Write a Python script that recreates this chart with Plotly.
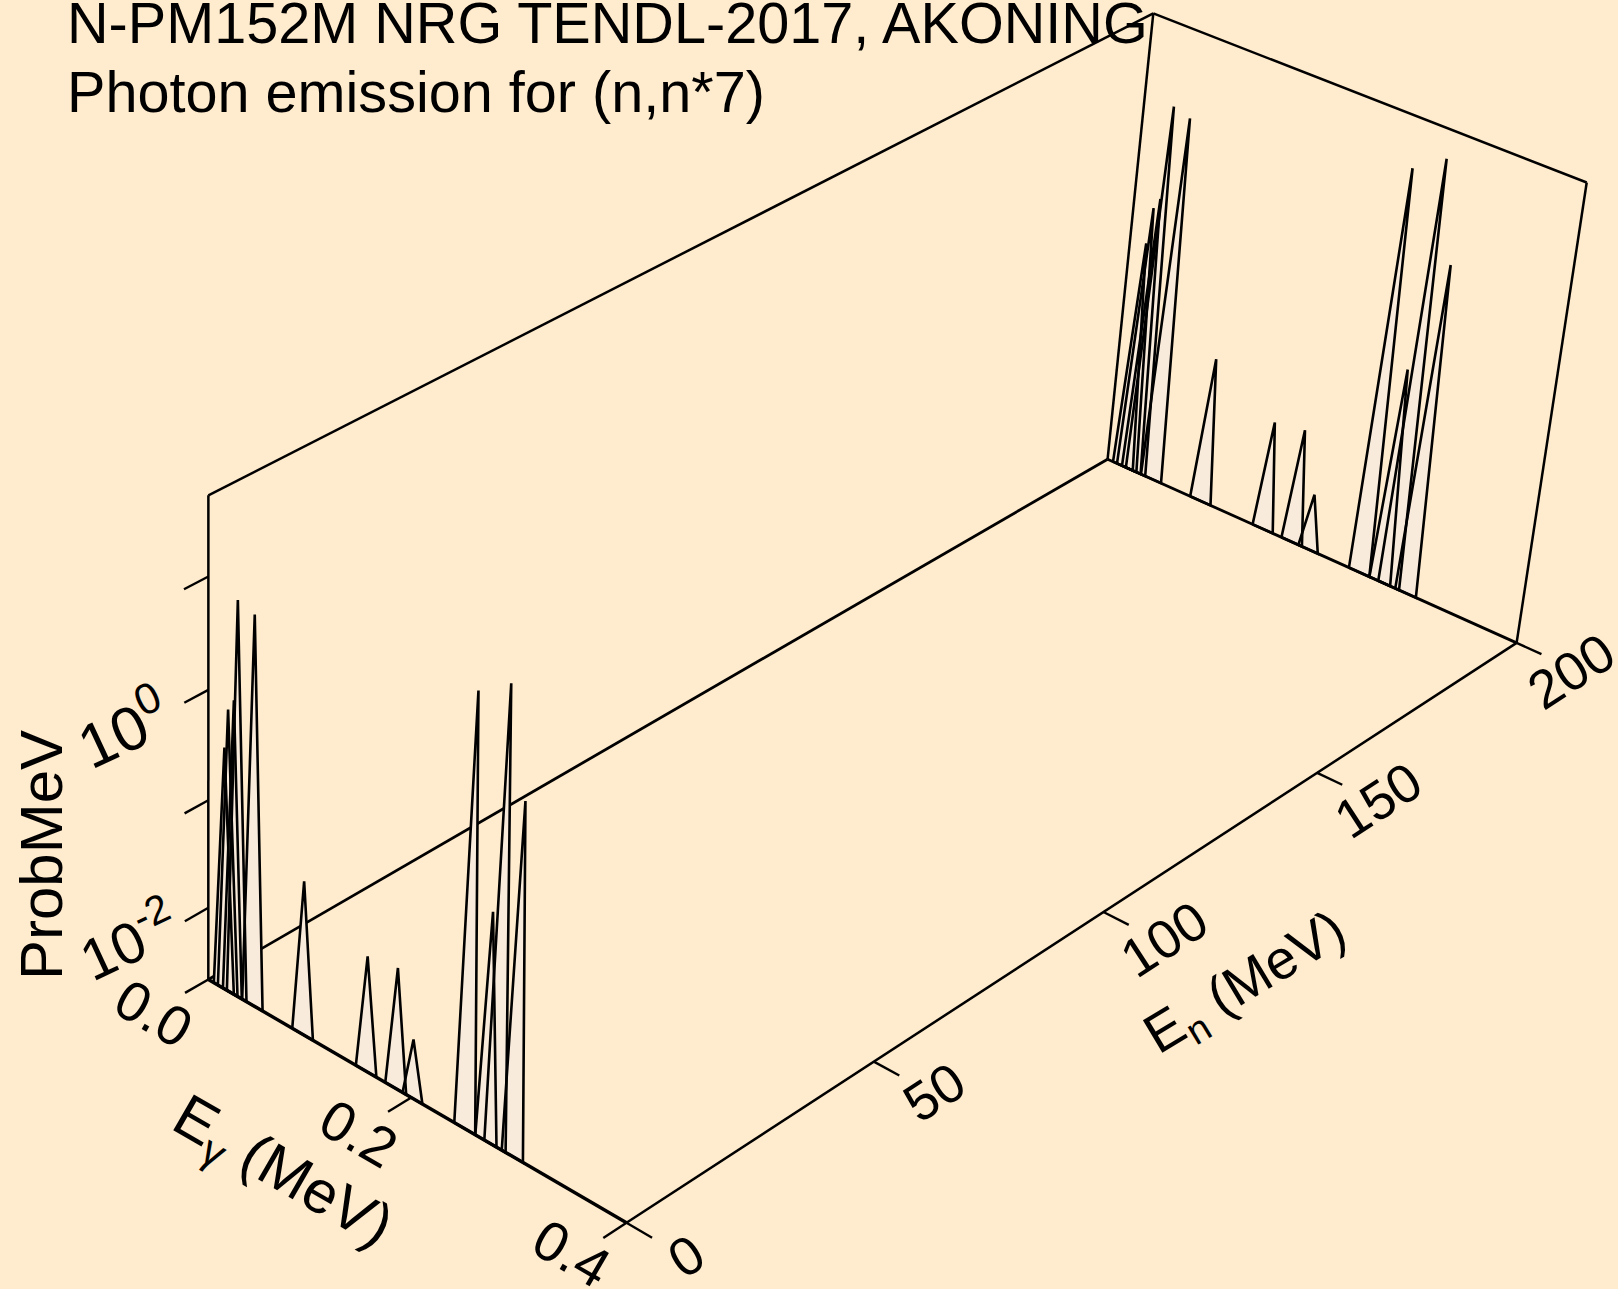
import numpy as np
import plotly.graph_objects as go

# ---- data ----
TITLE_LINES = ["N-PM152M NRG TENDL-2017, AKONING", "Photon emission for (n,n*7)"]
INCIDENT_ENERGIES = [0.0, 200.0]            # MeV: the two spectra shown
PEAK_LOW = [0.0056, 0.0097, 0.0148, 0.0188, 0.0342, 0.0841, 0.1465, 0.1750, 0.1916, 0.2409, 0.2607, 0.2692, 0.2855]
PEAK_E = [0.0158, 0.0193, 0.0249, 0.0284, 0.0446, 0.0941, 0.1558, 0.1845, 0.2007, 0.2506, 0.2700, 0.2790, 0.2951]
PEAK_HIGH = [0.0258, 0.0295, 0.0338, 0.0385, 0.0546, 0.1045, 0.1664, 0.1951, 0.2106, 0.2606, 0.2806, 0.2891, 0.3052]
PEAK_PROB = [0.363, 0.83, 1.07, 8.5, 7.6, 0.056, 0.0245, 0.0275, 0.0074, 17.0, 0.257, 27.0, 3.24]
EG_RANGE = [0.0, 0.4]
EN_RANGE = [0.0, 200.0]
PROB_RANGE = [10 ** -2.68, 10 ** 1.7]
EG_TICKS = [0.0, 0.2, 0.4]
EN_TICKS = [0, 50, 100, 150, 200]
PROB_TICKS = [0.01, 0.1, 1, 10]

# ---- view: image of the box corners, which fixes the perspective camera ----
VIEW = [((0, 0, 0), (208.4, 979.5)), ((1, 0, 0), (626.4, 1222.8)), ((0, 1, 0), (1107.5, 459.3)),
        ((1, 1, 0), (1516.7, 642.7)), ((0, 0, 1), (208.4, 495.3)), ((0, 1, 1), (1153.3, 13.3)),
        ((1, 1, 1), (1586.7, 182.7))]
rows = []
for (a, b, c), (u, v) in VIEW:
    rows.append([a, b, c, 1, 0, 0, 0, 0, -u * a, -u * b, -u * c, -u])
    rows.append([0, 0, 0, 0, a, b, c, 1, -v * a, -v * b, -v * c, -v])
CAMERA = np.linalg.svd(np.array(rows))[2][-1].reshape(3, 4)


def project(eg, en, prob):
    a = (np.asarray(eg, float) - EG_RANGE[0]) / (EG_RANGE[1] - EG_RANGE[0])
    b = (np.asarray(en, float) - EN_RANGE[0]) / (EN_RANGE[1] - EN_RANGE[0])
    lo, hi = np.log10(PROB_RANGE)
    c = (np.log10(np.asarray(prob, float)) - lo) / (hi - lo)
    h = CAMERA @ np.vstack([a, b, c, np.ones_like(a)])
    return h[0] / h[2], h[1] / h[2]


INK = "#000000"
BG = "#FFEBCD"
FILL = "#F9EBDB"
FONT = "Liberation Sans"
P0, P1 = PROB_RANGE
E0, E1 = EG_RANGE
N0, N1 = EN_RANGE
TICK_EG = 0.023
TICK_EN = 4.5

fig = go.Figure()


def segments(name, pieces, width):
    xs, ys = [], []
    for eg, en, p in pieces:
        x, y = project(eg, en, p)
        xs += list(x) + [None]
        ys += list(y) + [None]
    fig.add_trace(go.Scatter(x=xs, y=ys, mode="lines", name=name, showlegend=False, hoverinfo="skip",
                             line=dict(color=INK, width=width)))


def ribbon(en):
    xs, ys = [], []
    for lo, e, hi, p in zip(PEAK_LOW, PEAK_E, PEAK_HIGH, PEAK_PROB):
        x, y = project([lo, e, hi, lo], [en] * 4, [P0, p, P0, P0])
        xs += list(x) + [None]
        ys += list(y) + [None]
    fig.add_trace(go.Scatter(x=xs, y=ys, mode="lines", fill="toself", fillcolor=FILL, showlegend=False,
                             name=f"En={en:g} MeV", hoverinfo="skip",
                             line=dict(color=INK, width=2.6, simplify=False)))


# wall frame and rear floor edges
segments("frame", [
    ([E0, E0], [N0, N0], [P0, P1]),
    ([E0, E0], [N0, N1], [P1, P1]),
    ([E0, E0], [N1, N1], [P0, P1]),
    ([E0, E1], [N1, N1], [P1, P1]),
    ([E1, E1], [N1, N1], [P0, P1]),
    ([E1, E1], [N0, N1], [P0, P0]),
], 2.5)
ribbon(INCIDENT_ENERGIES[1])
segments("rear floor", [([E0, E0], [N0, N1], [P0, P0]), ([E0, E1], [N1, N1], [P0, P0])], 2.8)
ribbon(INCIDENT_ENERGIES[0])
segments("front floor", [([E0, E1], [N0, N0], [P0, P0])], 3.4)
segments("ticks",
         [([E0, E0], [N0, N0 - TICK_EN], [p, p]) for p in PROB_TICKS]
         + [([e, e], [N0, N0 - TICK_EN], [P0, P0]) for e in EG_TICKS]
         + [([E1, E1 + TICK_EG], [n, n], [P0, P0]) for n in EN_TICKS], 2.4)

LABELS = [
    ("ProbMeV", 41, 855, -90, 60),
    ("10<sup>-2</sup>", 127, 938, -25, 58),
    ("10<sup>0</sup>", 122, 727, -25, 62),
    ("0.0", 154, 1013, 30, 56),
    ("0.2", 359, 1133, 30, 56),
    ("0.4", 572, 1253, 30, 56),
    ("E<sub>γ</sub> (MeV)", 281, 1174, 30, 60),
    ("0", 686, 1256, -33, 54),
    ("50", 934, 1092, -33, 54),
    ("100", 1164, 939, -33, 54),
    ("150", 1378, 800, -33, 54),
    ("200", 1571, 671, -33, 54),
    ("E<sub>n</sub> (MeV)", 1246, 985, -31, 55),
]
notes = [dict(text=t, x=x, y=y, xref="x", yref="y", textangle=a, showarrow=False, xanchor="center",
              yanchor="middle", font=dict(family=FONT, size=s, color=INK)) for t, x, y, a, s in LABELS]
for line, y in zip(TITLE_LINES, [23, 92]):
    notes.append(dict(text=line, x=65, y=y, xref="x", yref="y", showarrow=False, xanchor="left",
                      yanchor="middle", font=dict(family=FONT, size=57.6, color=INK)))

fig.update_layout(width=1618, height=1289, autosize=False, margin=dict(l=0, r=0, t=0, b=0, pad=0),
                  paper_bgcolor=BG, plot_bgcolor=BG, showlegend=False, annotations=notes,
                  xaxis=dict(range=[0, 1618], visible=False, fixedrange=True),
                  yaxis=dict(range=[1289, 0], visible=False, fixedrange=True))
fig.write_html("out.html", post_script="document.body.style.margin='0';document.body.style.overflow='hidden';",
               config=dict(displayModeBar=False))
